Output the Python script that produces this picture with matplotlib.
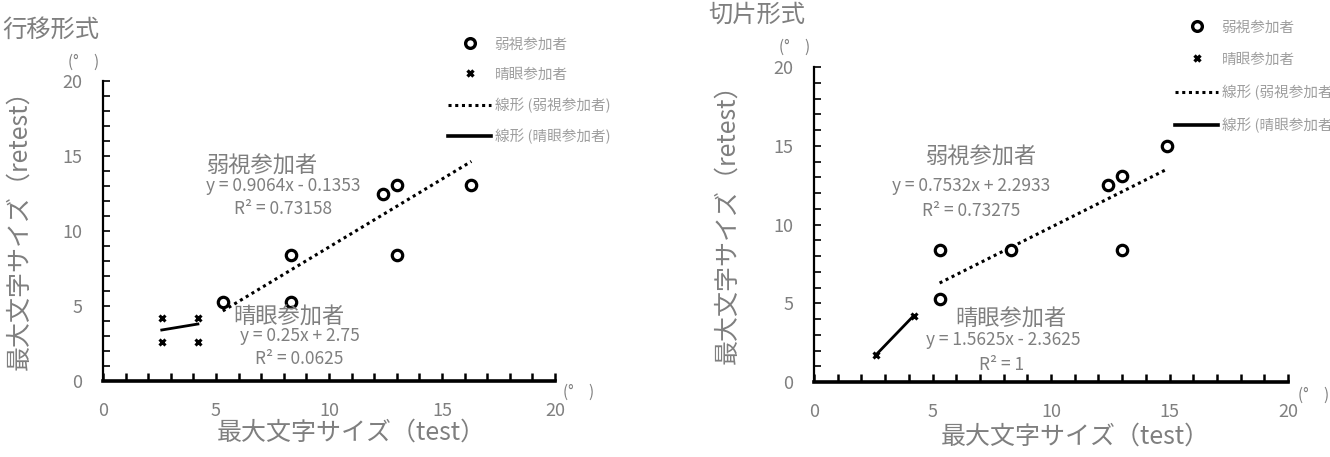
import matplotlib
matplotlib.use("Agg")
import matplotlib.pyplot as plt
from matplotlib.ticker import MultipleLocator
from matplotlib.lines import Line2D
import numpy as np

plt.rcParams['font.family'] = ['Noto Sans CJK JP', 'DejaVu Sans']

# ---- data ----
left_weak_x = [5.3, 8.3, 8.3, 12.4, 13.0, 13.0, 16.3]
left_weak_y = [5.3, 8.4, 5.3, 12.5, 13.1, 8.4, 13.1]
left_norm_x = [2.6, 2.6, 4.2, 4.2]
left_norm_y = [4.2, 2.6, 4.2, 2.6]
left_weak_fit = (0.9064, -0.1353)
left_norm_fit = (0.25, 2.75)

right_weak_x = [5.3, 5.3, 8.3, 12.4, 13.0, 13.0, 14.9]
right_weak_y = [8.4, 5.3, 8.4, 12.5, 13.1, 8.4, 15.0]
right_norm_x = [2.6, 4.2]
right_norm_y = [1.7, 4.2]
right_weak_fit = (0.7532, 2.2933)
right_norm_fit = (1.5625, -2.3625)

titles = ["行移形式", "切片形式"]
weak_eq = ["y = 0.9064x - 0.1353", "y = 0.7532x + 2.2933"]
weak_r2 = ["R² = 0.73158", "R² = 0.73275"]
norm_eq = ["y = 0.25x + 2.75", "y = 1.5625x - 2.3625"]
norm_r2 = ["R² = 0.0625", "R² = 1"]
xlabel = "最大文字サイズ（test）"
ylabel = "最大文字サイズ（retest）"
unit_label = "(°　)"
legend_labels = ["弱視参加者", "晴眼参加者", "線形 (弱視参加者)", "線形 (晴眼参加者)"]

W, H = 1330, 457
fig = plt.figure(figsize=(W / 100, H / 100), dpi=100)

def fx(x):
    return x / W

def fy(y):
    return 1 - y / H

GRAY = '#7f7f7f'
LGRAY = '#9e9e9e'

panels = [
    dict(rect=(103, 555, 381, 81), wx=left_weak_x, wy=left_weak_y, nx=left_norm_x, ny=left_norm_y,
         wf=left_weak_fit, nf=left_norm_fit,
         title=(2, 30), yunit=(84, 62), xunit=(579, 392),
         ylab=(19, 224), xlab=(351, 433),
         wlab=(263, 166), weq=(283, 186), wr2=(283, 209),
         nlab=(289, 317), neq=(300, 336), nr2=(299, 359),
         leg=(448, 37.5), ls=1.1),
    dict(rect=(814, 1288, 382, 67), wx=right_weak_x, wy=right_weak_y, nx=right_norm_x, ny=right_norm_y,
         wf=right_weak_fit, nf=right_norm_fit,
         title=(708, 15), yunit=(795, 47), xunit=(1314, 395),
         ylab=(727, 218), xlab=(1075, 437),
         wlab=(982, 157), weq=(971, 186), wr2=(971, 211),
         nlab=(1011, 319), neq=(1003, 340), nr2=(1002, 365),
         leg=(1175, 20.5), ls=1.23),
]

for i, p in enumerate(panels):
    l, r, b, t = p['rect']
    ax = fig.add_axes([fx(l), fy(b), (r - l) / W, (b - t) / H])
    ax.set_xlim(0, 20)
    ax.set_ylim(0, 20)
    ax.set_facecolor('none')
    for s in ['top', 'right']:
        ax.spines[s].set_visible(False)
    ax.spines['bottom'].set_linewidth(2.6)
    ax.spines['left'].set_linewidth(1.6)
    ax.xaxis.set_major_locator(MultipleLocator(5))
    ax.xaxis.set_minor_locator(MultipleLocator(1))
    ax.yaxis.set_major_locator(MultipleLocator(5))
    ax.yaxis.set_minor_locator(MultipleLocator(1))
    ax.tick_params(which='both', direction='in', colors='black', labelcolor=GRAY, labelsize=13)
    ax.tick_params(axis='x', which='both', length=6, width=1.8, pad=15)
    ax.tick_params(axis='y', which='both', length=5, width=1.2, pad=15)

    # scatter
    ax.plot(p['wx'], p['wy'], linestyle='none', marker='o', ms=7.5, mew=2.3,
            mfc='white', mec='black', zorder=4, clip_on=False)
    ax.plot(p['nx'], p['ny'], linestyle='none', marker='x', ms=5, mew=2.2,
            color='black', zorder=4, clip_on=False)
    # trend lines
    xw = np.array([min(p['wx']), max(p['wx'])])
    ax.plot(xw, p['wf'][0] * xw + p['wf'][1], linestyle=(0, (1, 1.2)), lw=2.2, color='black', zorder=3)
    xn = np.array([min(p['nx']), max(p['nx'])])
    ax.plot(xn, p['nf'][0] * xn + p['nf'][1], linestyle='-', lw=2.0, color='black', zorder=3)

    # labels
    fig.text(fx(p['title'][0]), fy(p['title'][1]), titles[i], color=GRAY, fontsize=17.5,
             ha='left', va='center')
    fig.text(fx(p['yunit'][0]), fy(p['yunit'][1]), unit_label, color=GRAY, fontsize=11,
             ha='center', va='center')
    fig.text(fx(p['xunit'][0]), fy(p['xunit'][1]), unit_label, color=GRAY, fontsize=11,
             ha='center', va='center')
    fig.text(fx(p['xlab'][0]), fy(p['xlab'][1]), xlabel, color=GRAY, fontsize=18,
             ha='center', va='center')
    fig.text(fx(p['ylab'][0]), fy(p['ylab'][1]), ylabel, color=GRAY, fontsize=18,
             ha='center', va='center', rotation=90, rotation_mode='anchor')

    fig.text(fx(p['wlab'][0]), fy(p['wlab'][1]), "弱視参加者", color=GRAY, fontsize=16,
             ha='center', va='center')
    fig.text(fx(p['weq'][0]), fy(p['weq'][1]), weak_eq[i], color=GRAY, fontsize=12.5,
             ha='center', va='center')
    fig.text(fx(p['wr2'][0]), fy(p['wr2'][1]), weak_r2[i], color=GRAY, fontsize=12.5,
             ha='center', va='center')
    fig.text(fx(p['nlab'][0]), fy(p['nlab'][1]), "晴眼参加者", color=GRAY, fontsize=16,
             ha='center', va='center')
    fig.text(fx(p['neq'][0]), fy(p['neq'][1]), norm_eq[i], color=GRAY, fontsize=12.5,
             ha='center', va='center')
    fig.text(fx(p['nr2'][0]), fy(p['nr2'][1]), norm_r2[i], color=GRAY, fontsize=12.5,
             ha='center', va='center')

    handles = [
        Line2D([], [], linestyle='none', marker='o', ms=7, mew=2.4, mfc='white', mec='black'),
        Line2D([], [], linestyle='none', marker='x', ms=5, mew=2.4, color='black'),
        Line2D([], [], linestyle=(0, (1, 1.2)), lw=2.2, color='black'),
        Line2D([], [], linestyle='-', lw=2.6, color='black'),
    ]
    fig.legend(handles, legend_labels, loc='upper left',
               bbox_to_anchor=(fx(p['leg'][0]), fy(p['leg'][1])),
               frameon=False, fontsize=10.5, borderpad=0, borderaxespad=0,
               handlelength=2.95, handletextpad=0.25, labelspacing=p['ls'],
               labelcolor=LGRAY)

fig.savefig("out.png", dpi=100)
